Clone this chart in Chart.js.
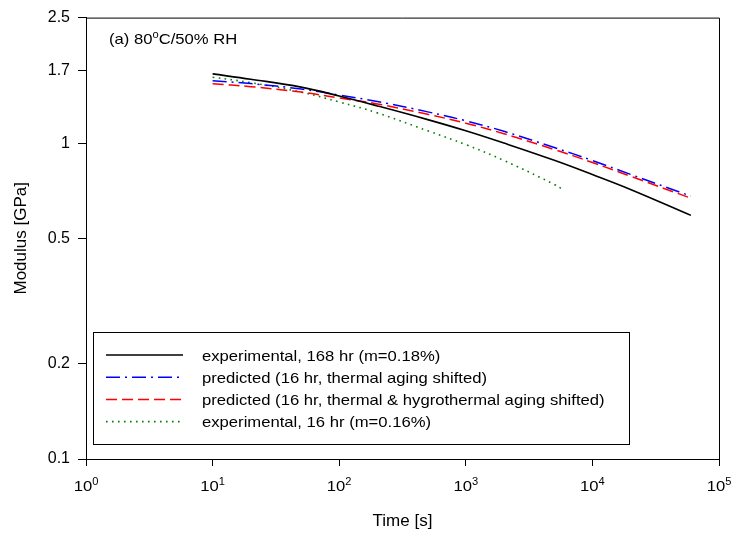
<!DOCTYPE html>
<html>
<head>
<meta charset="utf-8">
<script src="https://cdn.jsdelivr.net/npm/chart.js@4.4.0/dist/chart.umd.min.js"></script>
<style>
    html, body { margin: 0; padding: 0; background: #fff; }
    #wrap { width: 733px; height: 538px; }
</style>
</head>
<body>
<div id="wrap"><canvas id="myChart" width="733" height="538"></canvas></div>
<script>
'use strict';

// axis ticks
let timeTicks = [1, 10, 100, 1000, 10000, 100000];
let modulusTicks = [0.1, 0.2, 0.5, 1, 1.7, 2.5];
let modulusLabels = ['0.1', '0.2', '0.5', '1', '1.7', '2.5'];

// series
let timeLong = [10, 20, 50, 100, 200, 500, 1000, 2000, 5000, 10000, 20000, 60000];
let exp168 = [1.658, 1.595, 1.506, 1.411, 1.313, 1.188, 1.095, 1.001, 0.883, 0.796, 0.714, 0.591];
let predThermal = [1.576, 1.545, 1.485, 1.421, 1.356, 1.257, 1.178, 1.091, 0.969, 0.882, 0.797, 0.680];
let predHygro = [1.543, 1.511, 1.452, 1.391, 1.332, 1.235, 1.157, 1.072, 0.955, 0.869, 0.786, 0.670];

let timeShort = [10, 20, 50, 100, 200, 500, 1000, 2000, 5000, 5740];
let exp16 = [1.619, 1.556, 1.452, 1.351, 1.248, 1.095, 0.990, 0.882, 0.741, 0.717];

let seriesNames = [
    'experimental, 168 hr (m=0.18%)',
    'predicted (16 hr, thermal aging shifted)',
    'predicted (16 hr, thermal & hygrothermal aging shifted)',
    'experimental, 16 hr (m=0.16%)'
];

let fontFam = '"Liberation Sans", Arial, sans-serif';
let stretch = 1.11;

function toPoints(xs, ys) {
    let pts = [];
    for (let i = 0; i < xs.length; i++) {
        pts.push({ x: xs[i], y: ys[i] });
    }
    return pts;
}

function stretchedText(ctx, text, x, y, size) {
    ctx.save();
    ctx.font = size + 'px ' + fontFam;
    ctx.translate(x, y);
    ctx.scale(stretch, 1);
    ctx.fillText(text, 0, 0);
    ctx.restore();
}

function textWidth(ctx, text, size) {
    ctx.save();
    ctx.font = size + 'px ' + fontFam;
    let w = ctx.measureText(text).width * stretch;
    ctx.restore();
    return w;
}

let extras = {
    id: 'extras',
    afterDraw(chart) {
        let ctx = chart.ctx;
        let area = chart.chartArea;
        let xs = chart.scales.x;

        // frame on top and right
        ctx.save();
        ctx.strokeStyle = '#000';
        ctx.lineWidth = 1;
        ctx.beginPath();
        ctx.moveTo(area.left, area.top + 0.5);
        ctx.lineTo(area.right + 0.5, area.top + 0.5);
        ctx.lineTo(area.right + 0.5, area.bottom);
        ctx.stroke();
        ctx.restore();

        ctx.save();
        ctx.fillStyle = '#000';
        ctx.textBaseline = 'alphabetic';
        ctx.textAlign = 'left';

        // x tick labels 10^n
        for (let i = 0; i < timeTicks.length; i++) {
            let px = xs.getPixelForValue(timeTicks[i]);
            let exp = String(Math.round(Math.log10(timeTicks[i])));
            let wBase = textWidth(ctx, '10', 15);
            let wExp = textWidth(ctx, exp, 10);
            let start = px - (wBase + wExp) / 2;
            stretchedText(ctx, '10', start, 490.5, 15);
            stretchedText(ctx, exp, start + wBase, 485, 10);
        }

        // panel note
        let nx = 109;
        stretchedText(ctx, '(a) 80', nx, 44, 15);
        nx += textWidth(ctx, '(a) 80', 15);
        stretchedText(ctx, 'o', nx, 38, 10);
        nx += textWidth(ctx, 'o', 10);
        stretchedText(ctx, 'C/50% RH', nx, 44, 15);

        // legend box
        ctx.fillStyle = '#fff';
        ctx.fillRect(93, 332, 536, 112);
        ctx.strokeStyle = '#000';
        ctx.lineWidth = 1;
        ctx.strokeRect(93.5, 332.5, 536, 112);
        let sets = chart.data.datasets;
        for (let i = 0; i < sets.length; i++) {
            let ry = 355 + i * 22.2;
            ctx.save();
            ctx.strokeStyle = sets[i].borderColor;
            ctx.lineWidth = sets[i].borderWidth;
            ctx.setLineDash(sets[i].borderDash || []);
            ctx.beginPath();
            ctx.moveTo(106, ry);
            ctx.lineTo(183, ry);
            ctx.stroke();
            ctx.restore();
            ctx.fillStyle = '#000';
            stretchedText(ctx, sets[i].label, 202, ry + 5.5, 15);
        }
        ctx.restore();
    }
};

let ctx = document.getElementById('myChart').getContext('2d');
let myChart = new Chart(ctx, {
    type: 'line',
    data: {
        datasets: [{
            label: seriesNames[0],
            data: toPoints(timeLong, exp168),
            borderColor: '#000000',
            borderWidth: 1.6,
            borderDash: []
        }, {
            label: seriesNames[1],
            data: toPoints(timeLong, predThermal),
            borderColor: '#0000ff',
            borderWidth: 1.5,
            borderDash: [14, 5, 2, 5]
        }, {
            label: seriesNames[2],
            data: toPoints(timeLong, predHygro),
            borderColor: '#ff0000',
            borderWidth: 1.5,
            borderDash: [11, 5]
        }, {
            label: seriesNames[3],
            data: toPoints(timeShort, exp16),
            borderColor: '#008000',
            borderWidth: 1.6,
            borderDash: [1.6, 4.4]
        }]
    },
    options: {
        responsive: false,
        animation: false,
        layout: { padding: { top: 14, right: 14, left: 0, bottom: 0 } },
        elements: {
            point: { radius: 0 },
            line: { tension: 0.4, fill: false }
        },
        plugins: {
            legend: { display: false },
            tooltip: { enabled: false }
        },
        scales: {
            x: {
                type: 'logarithmic',
                min: 1,
                max: 100000,
                afterBuildTicks: function (scale) {
                    scale.ticks = timeTicks.map(v => ({ value: v }));
                },
                afterFit: function (scale) { scale.height = 79; },
                grid: { drawOnChartArea: false, drawTicks: true, tickLength: 7, tickColor: '#000' },
                border: { display: true, color: '#000', width: 1 },
                ticks: { autoSkip: false, maxRotation: 0, callback: () => '' },
                title: {
                    display: true,
                    text: 'Time [s]',
                    color: '#000',
                    font: { family: fontFam, size: 17 },
                    padding: { top: 0, bottom: 6 }
                }
            },
            y: {
                type: 'logarithmic',
                min: 0.1,
                max: 2.5,
                afterBuildTicks: function (scale) {
                    scale.ticks = modulusTicks.map(v => ({ value: v }));
                },
                afterFit: function (scale) { scale.width = 86; },
                grid: { drawOnChartArea: false, drawTicks: true, tickLength: 8, tickColor: '#000' },
                border: { display: true, color: '#000', width: 1 },
                ticks: {
                    autoSkip: false,
                    padding: 8,
                    color: '#000',
                    font: { family: fontFam, size: 16 },
                    callback: function (value, index) { return modulusLabels[index]; }
                },
                title: {
                    display: true,
                    text: 'Modulus [GPa]',
                    color: '#000',
                    font: { family: fontFam, size: 17 },
                    padding: { top: 11, bottom: 0 }
                }
            }
        }
    },
    plugins: [extras]
});
</script>
</body>
</html>
